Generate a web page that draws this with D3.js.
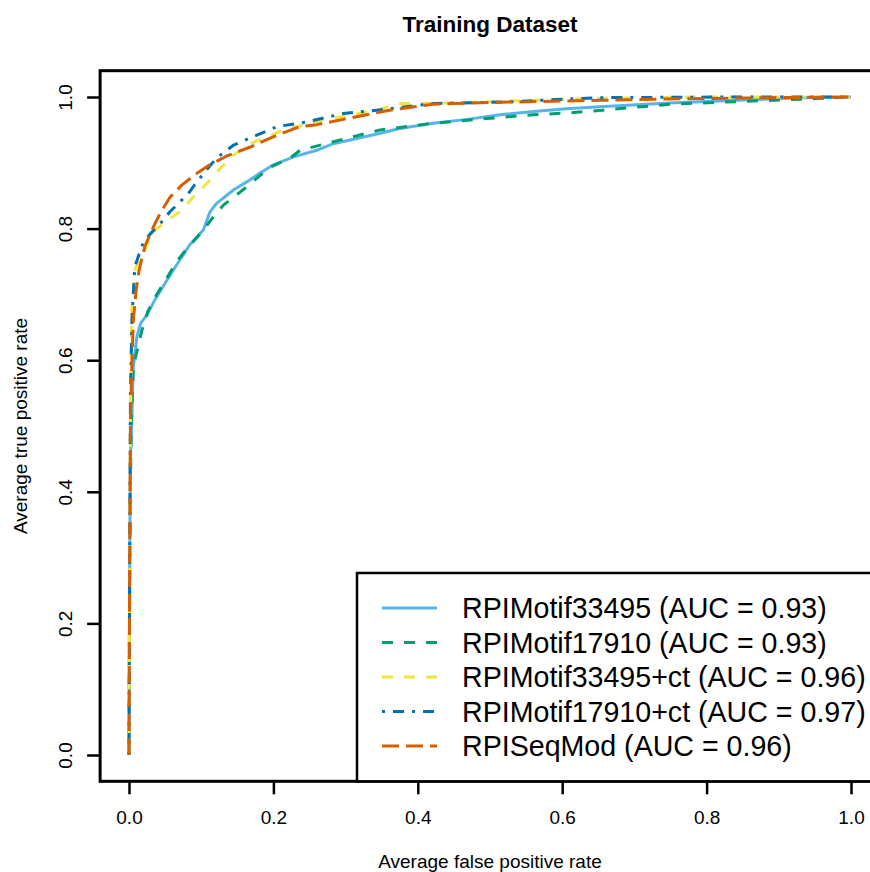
<!DOCTYPE html>
<html>
<head>
<meta charset="utf-8">
<script src="https://cdn.jsdelivr.net/npm/d3@7"></script>
<style>
  html, body { margin: 0; padding: 0; background: #fff; }
  svg { display: block; font-family: "Liberation Sans", Arial, Helvetica, sans-serif; }
</style>
</head>
<body>
<svg id="chart" width="870" height="872"></svg>
<script>
// ROC curves, averaged over folds: false positive rate (fpr) vs true positive rate (tpr)
const motif33495Fpr = [0, 0.001, 0.002, 0.004, 0.006, 0.011, 0.016, 0.025, 0.036, 0.050, 0.066, 0.084, 0.103, 0.112, 0.121, 0.145, 0.163, 0.181, 0.200, 0.228, 0.260, 0.283, 0.348, 0.375, 0.421, 0.468, 0.514, 0.560, 0.606, 0.652, 0.749, 0.842, 0.935, 1.0];
const motif33495Tpr = [0, 0.30, 0.45, 0.51, 0.59, 0.636, 0.656, 0.669, 0.692, 0.717, 0.745, 0.775, 0.798, 0.825, 0.838, 0.859, 0.871, 0.884, 0.897, 0.909, 0.919, 0.929, 0.945, 0.952, 0.960, 0.966, 0.973, 0.978, 0.982, 0.985, 0.991, 0.995, 0.999, 1.0];

const motif17910Fpr = [0, 0.001, 0.003, 0.006, 0.018, 0.026, 0.038, 0.052, 0.066, 0.082, 0.101, 0.117, 0.131, 0.158, 0.195, 0.223, 0.237, 0.283, 0.348, 0.421, 0.514, 0.560, 0.611, 0.656, 0.749, 0.842, 0.938, 1.0];
const motif17910Tpr = [0, 0.30, 0.50, 0.59, 0.646, 0.674, 0.699, 0.724, 0.750, 0.772, 0.795, 0.818, 0.836, 0.859, 0.893, 0.907, 0.919, 0.932, 0.950, 0.960, 0.969, 0.973, 0.976, 0.980, 0.989, 0.993, 0.997, 1.0];

const motif33495ctFpr = [0, 0.001, 0.002, 0.004, 0.009, 0.020, 0.031, 0.050, 0.071, 0.089, 0.108, 0.126, 0.145, 0.168, 0.214, 0.269, 0.343, 0.375, 0.445, 0.652, 0.795, 1.0];
const motif33495ctTpr = [0, 0.30, 0.50, 0.68, 0.740, 0.762, 0.793, 0.810, 0.826, 0.848, 0.869, 0.891, 0.912, 0.929, 0.950, 0.965, 0.980, 0.990, 0.991, 0.998, 1.0, 1.0];

const motif17910ctFpr = [0, 0.001, 0.002, 0.004, 0.008, 0.020, 0.032, 0.045, 0.057, 0.071, 0.082, 0.094, 0.105, 0.121, 0.145, 0.177, 0.205, 0.246, 0.297, 0.343, 0.421, 0.537, 0.606, 0.652, 0.842, 1.0];
const motif17910ctTpr = [0, 0.30, 0.545, 0.661, 0.742, 0.780, 0.795, 0.810, 0.826, 0.841, 0.853, 0.871, 0.886, 0.907, 0.927, 0.942, 0.955, 0.962, 0.975, 0.980, 0.990, 0.993, 0.997, 0.999, 1.0, 1.0];

const seqModFpr = [0, 0.001, 0.002, 0.004, 0.006, 0.010, 0.014, 0.022, 0.034, 0.043, 0.057, 0.073, 0.094, 0.112, 0.135, 0.168, 0.205, 0.237, 0.260, 0.315, 0.361, 0.421, 0.514, 0.652, 0.749, 0.888, 1.0];
const seqModTpr = [0, 0.30, 0.509, 0.595, 0.661, 0.707, 0.737, 0.773, 0.803, 0.823, 0.848, 0.866, 0.884, 0.897, 0.910, 0.924, 0.942, 0.955, 0.958, 0.970, 0.980, 0.989, 0.992, 0.995, 0.997, 0.999, 1.0];

const seriesNames = ["RPIMotif33495", "RPIMotif17910", "RPIMotif33495+ct", "RPIMotif17910+ct", "RPISeqMod"];
const seriesAuc = [0.93, 0.93, 0.96, 0.97, 0.96];
const seriesFpr = [motif33495Fpr, motif17910Fpr, motif33495ctFpr, motif17910ctFpr, seqModFpr];
const seriesTpr = [motif33495Tpr, motif17910Tpr, motif33495ctTpr, motif17910ctTpr, seqModTpr];

const tickValues = [0, 0.2, 0.4, 0.6, 0.8, 1.0];

// styling
const colors = ["#56B4E9", "#009E73", "#F0E442", "#0072B2", "#D55E00"];
const dashes = [null, "11,11", "11,11", "3,8,11,8", "17,7"];

const svg = d3.select("#chart");

const x = d3.scaleLinear().domain([0, 1]).range([129, 851]);
const y = d3.scaleLinear().domain([0, 1]).range([755, 97]);

// plot frame extends 4% beyond the data range on each side
const pad = 0.04;
const frame = {
  left: x(-pad), right: x(1 + pad),
  top: y(1 + pad), bottom: y(-pad)
};

// curves
const line = d3.line().x(d => x(d[0])).y(d => y(d[1]));
seriesNames.forEach((name, i) => {
  const pts = seriesFpr[i].map((f, j) => [f, seriesTpr[i][j]]);
  svg.append("path")
    .datum(pts)
    .attr("d", line)
    .attr("fill", "none")
    .attr("stroke", colors[i])
    .attr("stroke-width", 3)
    .attr("stroke-linejoin", "round")
    .attr("stroke-dasharray", dashes[i]);
});

// frame
svg.append("rect")
  .attr("x", frame.left).attr("y", frame.top)
  .attr("width", frame.right - frame.left)
  .attr("height", frame.bottom - frame.top)
  .attr("fill", "none").attr("stroke", "#000").attr("stroke-width", 3);

// axes
const fmt = d3.format(".1f");
const xAxis = svg.append("g")
  .attr("transform", `translate(0,${frame.bottom})`)
  .call(d3.axisBottom(x).tickValues(tickValues).tickFormat(fmt).tickSize(13).tickPadding(16));
const yAxis = svg.append("g")
  .attr("transform", `translate(${frame.left},0)`)
  .call(d3.axisLeft(y).tickValues(tickValues).tickFormat(fmt).tickSize(13).tickPadding(0));

[xAxis, yAxis].forEach(g => {
  g.select(".domain").remove();
  g.selectAll(".tick line").attr("stroke", "#000").attr("stroke-width", 2.5);
  g.selectAll(".tick text")
    .attr("fill", "#000")
    .style("font-family", '"Liberation Sans", Arial, Helvetica, sans-serif')
    .style("font-size", "19px");
});

// rotated y tick labels, as in base graphics
yAxis.selectAll(".tick text")
  .attr("x", null).attr("dy", null)
  .attr("text-anchor", "middle")
  .attr("transform", "translate(-35,0) rotate(-90)")
  .attr("dy", "0.35em");

// titles
svg.append("text")
  .attr("x", (frame.left + frame.right) / 2).attr("y", 32)
  .attr("text-anchor", "middle")
  .attr("font-weight", "bold").attr("font-size", 22.5)
  .text("Training  Dataset");

svg.append("text")
  .attr("x", (frame.left + frame.right) / 2).attr("y", 868)
  .attr("text-anchor", "middle").attr("font-size", 19)
  .text("Average false positive rate");

svg.append("text")
  .attr("transform", `translate(27,${(frame.top + frame.bottom) / 2}) rotate(-90)`)
  .attr("text-anchor", "middle").attr("font-size", 19)
  .text("Average true positive rate");

// legend
const legend = svg.append("g");
legend.append("rect")
  .attr("x", 357).attr("y", 573)
  .attr("width", 600).attr("height", frame.bottom - 573)
  .attr("fill", "#fff").attr("stroke", "#000").attr("stroke-width", 2.5);

const rowY = d3.scaleLinear().domain([0, 4]).range([608, 746]);
seriesNames.forEach((name, i) => {
  legend.append("line")
    .attr("x1", 382).attr("x2", 437)
    .attr("y1", rowY(i)).attr("y2", rowY(i))
    .attr("stroke", colors[i]).attr("stroke-width", 3)
    .attr("stroke-dasharray", dashes[i]);
  legend.append("text")
    .attr("x", 462).attr("y", rowY(i))
    .attr("dy", "0.36em")
    .attr("font-size", 28.6)
    .text(`${name} (AUC = ${seriesAuc[i].toFixed(2)})`);
});
</script>
</body>
</html>
